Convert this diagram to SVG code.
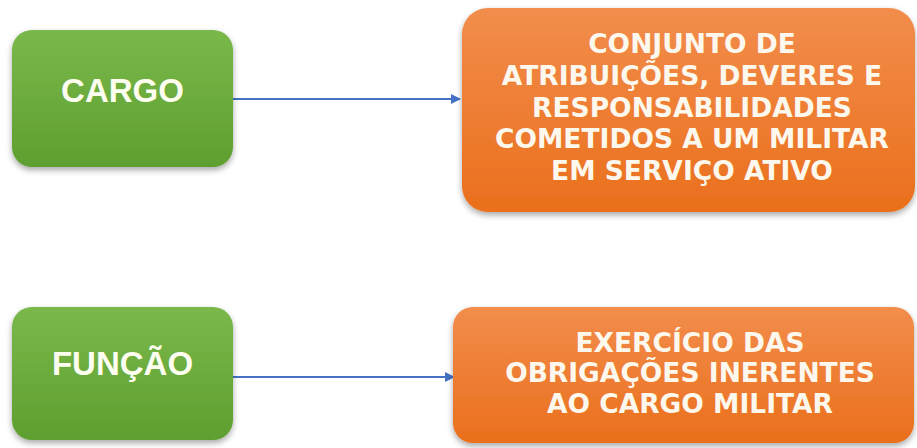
<svg xmlns="http://www.w3.org/2000/svg" width="917" height="448" viewBox="0 0 917 448">
<style>
.lbl{font-family:"Liberation Sans",Arial,sans-serif;font-weight:bold;font-size:33px;fill:#fdfdf0;text-anchor:middle}
.desc{font-family:"DejaVu Sans",Verdana,sans-serif;font-weight:bold;font-size:26.5px;fill:#fdf8ee;text-anchor:middle}
.conn{stroke:#4472c4;stroke-width:2;fill:none}
</style>
<defs>
<linearGradient id="gg" x1="0" y1="0" x2="0" y2="1">
<stop offset="0" stop-color="#7ab84b"/>
<stop offset="1" stop-color="#5e9f2f"/>
</linearGradient>
<linearGradient id="og" x1="0" y1="0" x2="0" y2="1">
<stop offset="0" stop-color="#f28d4c"/>
<stop offset="1" stop-color="#ea6f1c"/>
</linearGradient>
<filter id="sh" x="-10%" y="-10%" width="120%" height="130%">
<feGaussianBlur in="SourceAlpha" stdDeviation="3"/>
<feOffset dx="0" dy="3" result="b"/>
<feComponentTransfer><feFuncA type="linear" slope="0.35"/></feComponentTransfer>
<feMerge><feMergeNode/><feMergeNode in="SourceGraphic"/></feMerge>
</filter>
<marker id="ah" markerWidth="10" markerHeight="10" refX="9" refY="5" orient="auto" markerUnits="userSpaceOnUse">
<path d="M0,0 L10,5 L0,10 Z" fill="#4472c4"/>
</marker>
</defs>
<rect width="917" height="448" fill="#ffffff"/>
<g id="connectors">
<line class="conn" x1="233" y1="99" x2="460" y2="99" marker-end="url(#ah)"/>
<line class="conn" x1="233" y1="377" x2="454" y2="377" marker-end="url(#ah)"/>
</g>
<g id="cargo">
<rect x="12" y="30" width="221" height="137" rx="20" fill="url(#gg)" filter="url(#sh)"/>
<text class="lbl" x="122.5" y="102">CARGO</text>
</g>
<g id="cargo-desc">
<rect x="462" y="8" width="453" height="204" rx="26" fill="url(#og)" filter="url(#sh)"/>
<text class="desc" x="692" y="53">CONJUNTO DE</text>
<text class="desc" x="692" y="85">ATRIBUIÇÕES, DEVERES E</text>
<text class="desc" x="692" y="117">RESPONSABILIDADES</text>
<text class="desc" x="692" y="148">COMETIDOS A UM MILITAR</text>
<text class="desc" x="692" y="180">EM SERVIÇO ATIVO</text>
</g>
<g id="funcao">
<rect x="12" y="307" width="221" height="133" rx="20" fill="url(#gg)" filter="url(#sh)"/>
<text class="lbl" x="122.5" y="375">FUNÇÃO</text>
</g>
<g id="funcao-desc">
<rect x="453" y="307" width="461" height="136" rx="20" fill="url(#og)" filter="url(#sh)"/>
<text class="desc" x="690" y="352">EXERCÍCIO DAS</text>
<text class="desc" x="690" y="382">OBRIGAÇÕES INERENTES</text>
<text class="desc" x="690" y="413">AO CARGO MILITAR</text>
</g>
</svg>
